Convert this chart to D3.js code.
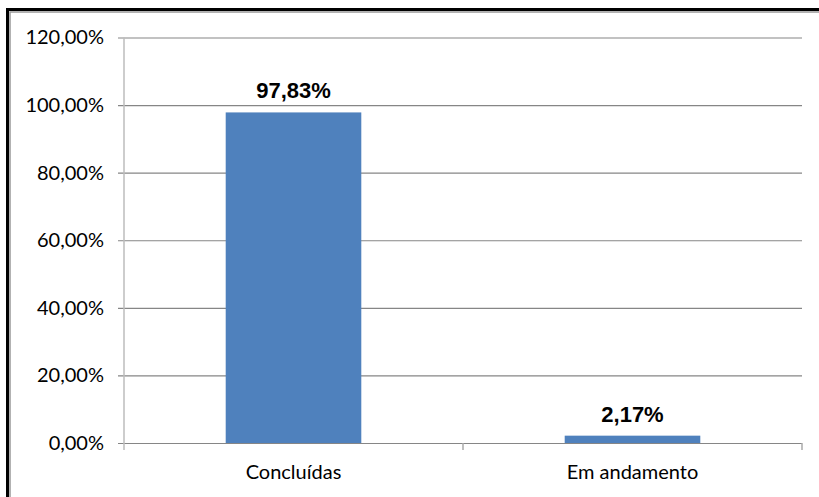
<!DOCTYPE html>
<html>
<head>
<meta charset="utf-8">
<script src="https://cdn.jsdelivr.net/npm/d3@7"></script>
<style>
  body { margin: 0; background: #fff; }
  svg { display: block; }
</style>
</head>
<body>
<svg id="chart" width="819" height="497"></svg>
<script>
// data
const categories = ["Concluídas", "Em andamento"];
const values = [97.83, 2.17];
const valueLabels = ["97,83%", "2,17%"];
const yTicks = [0, 20, 40, 60, 80, 100, 120];

const svg = d3.select("#chart");
const plot = { left: 124, right: 802, top: 37.5, bottom: 443 };

// frame (black line with grey shadow, cut off right/bottom)
svg.append("rect")
  .attr("x", 7.5).attr("y", 9.5).attr("width", 900).attr("height", 600)
  .attr("fill", "none").attr("stroke", "#000").attr("stroke-width", 3);
svg.append("rect")
  .attr("x", 10).attr("y", 12).attr("width", 900).attr("height", 600)
  .attr("fill", "none").attr("stroke", "#999").attr("stroke-width", 1.5);

const x = d3.scaleBand()
  .domain(categories)
  .range([plot.left, plot.right])
  .paddingInner(0.6)
  .paddingOuter(0.3);

const y = d3.scaleLinear()
  .domain([0, 120])
  .range([plot.bottom, plot.top]);

const fmt = v => d3.format(".2f")(v).replace(".", ",") + "%";

// gridlines + y tick labels
const yAxis = d3.axisLeft(y)
  .tickValues(yTicks)
  .tickSize(-(plot.right - plot.left) - 6)
  .tickFormat(fmt);

const gy = svg.append("g")
  .attr("transform", `translate(${plot.right},0)`)
  .call(yAxis);
gy.select(".domain").remove();
gy.selectAll(".tick line")
  .attr("x1", -(plot.right - plot.left) - 6)
  .attr("x2", 0)
  .attr("stroke", "#868686")
  .attr("stroke-width", 1.2);
gy.selectAll(".tick text")
  .attr("x", -(plot.right - plot.left) - 20)
  .attr("font-family", "Lato, 'Open Sans', sans-serif")
  .attr("font-size", 20)
  .attr("fill", "#000");

// vertical axis line
svg.append("line")
  .attr("x1", plot.left).attr("x2", plot.left)
  .attr("y1", plot.top).attr("y2", plot.bottom + 7)
  .attr("stroke", "#bdbdbd").attr("stroke-width", 1.5);

// category boundary ticks
const bounds = [x.step(), x.step() * 2].map(d => plot.left + d);
svg.selectAll("line.ctick").data(bounds).enter()
  .append("line")
  .attr("class", "ctick")
  .attr("x1", d => d).attr("x2", d => d)
  .attr("y1", plot.bottom).attr("y2", plot.bottom + 7)
  .attr("stroke", "#aaa").attr("stroke-width", 1.5);

// bars
svg.selectAll("rect.bar").data(values).enter()
  .append("rect")
  .attr("class", "bar")
  .attr("x", (d, i) => x(categories[i]))
  .attr("y", d => y(d))
  .attr("width", x.bandwidth())
  .attr("height", d => y(0) - y(d))
  .attr("fill", "#4f81bd");

// value labels
svg.selectAll("text.val").data(values).enter()
  .append("text")
  .attr("class", "val")
  .attr("x", (d, i) => x(categories[i]) + x.bandwidth() / 2)
  .attr("y", d => y(d) - 14)
  .attr("text-anchor", "middle")
  .attr("font-family", "'Liberation Sans', Arial, sans-serif")
  .attr("font-weight", "bold")
  .attr("font-size", 22)
  .text((d, i) => valueLabels[i]);

// category labels
svg.selectAll("text.cat").data(categories).enter()
  .append("text")
  .attr("class", "cat")
  .attr("x", d => x(d) + x.bandwidth() / 2)
  .attr("y", 479)
  .attr("text-anchor", "middle")
  .attr("font-family", "Lato, 'Open Sans', sans-serif")
  .attr("font-size", 20)
  .text(d => d);
</script>
</body>
</html>
